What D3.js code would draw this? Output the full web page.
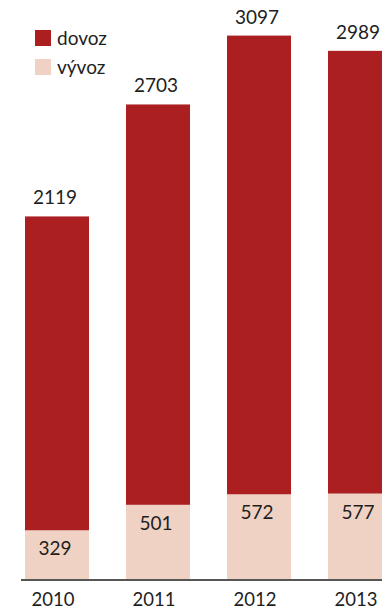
<!DOCTYPE html>
<html><head><meta charset="utf-8">
<script src="https://cdn.jsdelivr.net/npm/d3@7"></script>
<style>
html,body{margin:0;padding:0;background:#fff;overflow:hidden}
text{font-family:Lato,"Open Sans",sans-serif;fill:#1e1e1e}
</style></head>
<body><svg id="c" width="382" height="610"></svg>
<script>
const years = ["2010","2011","2012","2013"];
const dovoz = [2119, 2703, 3097, 2989];
const vyvoz = [329, 501, 572, 577];
const seriesNames = ["dovoz","vývoz"];
const colors = {dovoz:"#ab1f20", vyvoz:"#efd2c4"};

const svg = d3.select("#c");
const x = d3.scaleBand().domain(years).range([25, 392]).paddingInner(0.3663).paddingOuter(0);
const y = d3.scaleLinear().domain([0, 3700]).range([579, 31]);

const rows = years.map((yr,i)=>({year:yr, dovoz:dovoz[i], vyvoz:vyvoz[i]}));
const stack = d3.stack().keys(["vyvoz","dovoz"])(rows);

svg.selectAll("g.layer").data(stack).join("g").attr("class","layer")
  .attr("fill", d=>colors[d.key])
  .selectAll("rect").data(d=>d).join("rect")
  .attr("x", d=>x(d.data.year)).attr("width", x.bandwidth())
  .attr("y", d=>y(d[1])).attr("height", d=>y(d[0])-y(d[1]));

// dovoz labels (above bar)
svg.selectAll("text.dl").data(rows).join("text").attr("class","dl")
  .attr("x", d=>x(d.year)+x.bandwidth()/2-2)
  .attr("y", d=>y(d.dovoz+d.vyvoz)-12)
  .attr("text-anchor","middle").attr("font-size",19)
  .text(d=>d.dovoz);

// vyvoz labels (inside bottom segment)
svg.selectAll("text.vl").data(rows).join("text").attr("class","vl")
  .attr("x", d=>x(d.year)+x.bandwidth()/2-2)
  .attr("y", d=>y(d.vyvoz)+25)
  .attr("text-anchor","middle").attr("font-size",19)
  .text(d=>d.vyvoz);

// axis
const axis = d3.axisBottom(x).tickSize(0).tickPadding(0);
const ag = svg.append("g").attr("transform","translate(0,580)").call(axis);
ag.select(".domain").remove();
ag.selectAll("text").attr("font-size",18.5).attr("dy",null).attr("y",26).attr("x",-4)
  .style("font-family","Lato, sans-serif").attr("fill","#1e1e1e");
svg.append("line").attr("x1",21).attr("x2",382).attr("y1",580).attr("y2",580)
  .attr("stroke","#1e1e1e").attr("stroke-width",1.5);

// legend
const lg = svg.append("g").attr("transform","translate(35,30)");
const lkeys = ["dovoz","vyvoz"];
lkeys.forEach((k,i)=>{
  const g = lg.append("g").attr("transform",`translate(0,${i*29})`);
  g.append("rect").attr("width",16).attr("height",16).attr("fill",colors[k]);
  g.append("text").attr("x",22).attr("y",14.5).attr("font-size",19).text(seriesNames[i]);
});
</script></body></html>
